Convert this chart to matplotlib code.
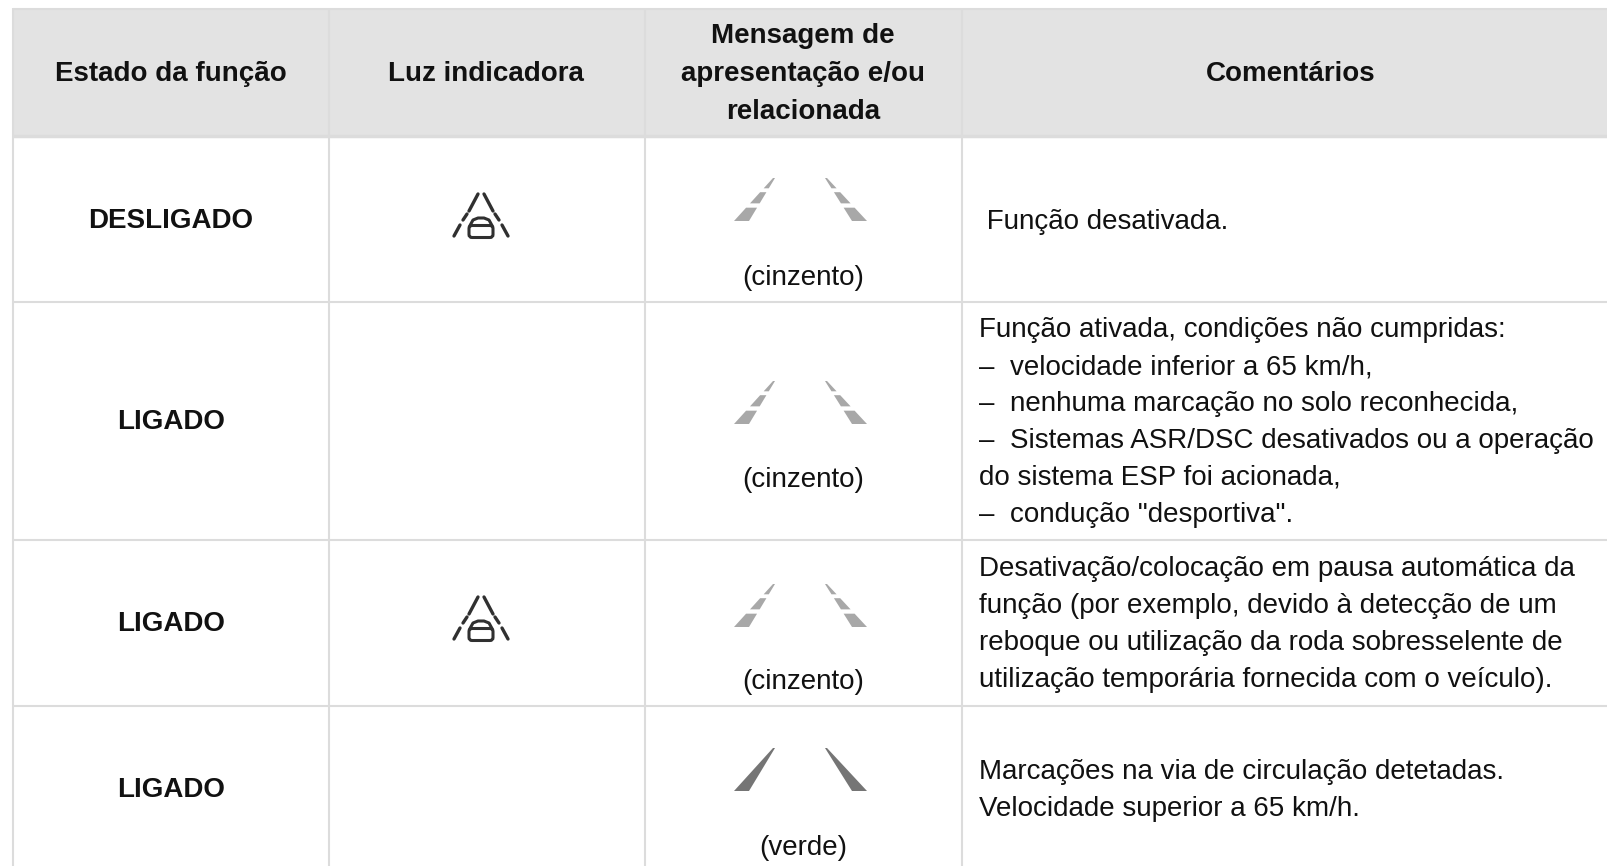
import matplotlib
matplotlib.use('Agg')
import matplotlib.pyplot as plt
from matplotlib.patches import Polygon, Rectangle, FancyBboxPatch

plt.rcParams['font.family'] = ['Liberation Sans', 'DejaVu Sans']

W, H = 1608, 866

headers = ['Estado da função', 'Luz indicadora',
           'Mensagem de\napresentação e/ou\nrelacionada', 'Comentários']
states = ['DESLIGADO', 'LIGADO', 'LIGADO', 'LIGADO']
has_light = [True, False, True, False]
lane_colour = ['(cinzento)', '(cinzento)', '(cinzento)', '(verde)']
comments = [
    [' Função desativada.'],
    ['Função ativada, condições não cumpridas:',
     '–  velocidade inferior a 65 km/h,',
     '–  nenhuma marcação no solo reconhecida,',
     '–  Sistemas ASR/DSC desativados ou a operação',
     'do sistema ESP foi acionada,',
     '–  condução "desportiva".'],
    ['Desativação/colocação em pausa automática da',
     'função (por exemplo, devido à detecção de um',
     'reboque ou utilização da roda sobresselente de',
     'utilização temporária fornecida com o veículo).'],
    ['Marcações na via de circulação detetadas.',
     'Velocidade superior a 65 km/h.'],
]

col_lines = [13, 329, 645, 962]
col_mid = [171, 486, 803, 1291]
row_lines = [136, 302, 540, 706]
state_y = [221, 422, 624, 790]
lane_base = [221, 424, 627, 791]
label_y = [278, 480, 682, 848]
comment_y = [222, 330, 569, 772]
comment_x = 979

GRID = '#dcdcdc'
HEAD = '#e3e3e3'
INK = '#111111'
ICON = '#303030'
SIZE = 20


def lane(ax, x0, base, colour, dashed):
    # one wedge per side, cut in three when the marking is not detected
    parts = [(0, 0.31), (0.41, 0.67), (0.76, 1.0)] if dashed else [(0, 1.0)]
    for outer, tip, sign in ((x0 - 69, x0 - 30, 1), (x0 + 64, x0 + 24, -1)):
        for a, b in parts:
            xa = outer + (tip - outer) * a
            xb = outer + (tip - outer) * b
            wa = sign * (15 - 13 * a)
            wb = sign * (15 - 13 * b)
            ax.add_patch(Polygon([(xa, base - 43 * a), (xa + wa, base - 43 * a),
                                  (xb + wb, base - 43 * b), (xb, base - 43 * b)],
                                 closed=True, fc=colour, ec='none'))


def light(ax, cx, cy):
    # road edges with a small car in front
    for s in (-1, 1):
        for (x1, y1, x2, y2) in [(3, -21, 12, -4), (14, -1, 18, 5), (21, 10, 27, 21)]:
            ax.plot([cx + s * x1, cx + s * x2], [cy + y1, cy + y2], color=ICON, lw=2.4,
                    solid_capstyle='round')
    ax.add_patch(FancyBboxPatch((cx - 12, cy + 10.5), 24, 12,
                                boxstyle='round,pad=0,rounding_size=3',
                                fc='none', ec=ICON, lw=2.2))
    ax.plot([cx - 11, cx - 8, cx - 3, cx + 3, cx + 8, cx + 11],
            [cy + 10.5, cy + 5, cy + 3, cy + 3, cy + 5, cy + 10.5], color=ICON, lw=2.2)


fig = plt.figure(figsize=(W / 100, H / 100), dpi=100)
ax = fig.add_axes([0, 0, 1, 1])
ax.set_xlim(0, W)
ax.set_ylim(H, 0)
ax.axis('off')

ax.add_patch(Rectangle((col_lines[0], 8), W - col_lines[0], row_lines[0] - 8,
                       fc=HEAD, ec='none'))
ax.plot([col_lines[0], W], [8.5, 8.5], color=GRID, lw=1.5, solid_capstyle='butt')
for x in col_lines:
    ax.plot([x, x], [8, H], color=GRID, lw=1.5, solid_capstyle='butt')
for i, y in enumerate(row_lines):
    ax.plot([col_lines[0], W], [y, y], color=GRID, lw=2.5 if i == 0 else 1.5,
            solid_capstyle='butt')

for x, t in zip(col_mid, headers):
    ax.text(x if t != headers[1] else 486, 74, t, ha='center', va='center', fontsize=SIZE,
            fontweight='bold', color=INK, linespacing=1.6)

for i in range(4):
    ax.text(col_mid[0], state_y[i], states[i], ha='center', va='center', fontsize=SIZE,
            fontweight='bold', color=INK)
    if has_light[i]:
        light(ax, 481, state_y[i] - 6)
    if lane_colour[i] == '(verde)':
        lane(ax, col_mid[2], lane_base[i], '#757575', False)
    else:
        lane(ax, col_mid[2], lane_base[i], '#a8a8a8', True)
    ax.text(col_mid[2], label_y[i], lane_colour[i], ha='center', va='center',
            fontsize=SIZE, color=INK)
    for j, line in enumerate(comments[i]):
        ax.text(comment_x, comment_y[i] + j * 37, line, ha='left', va='center',
                fontsize=SIZE, color=INK)

fig.savefig('out.png', dpi=100)
